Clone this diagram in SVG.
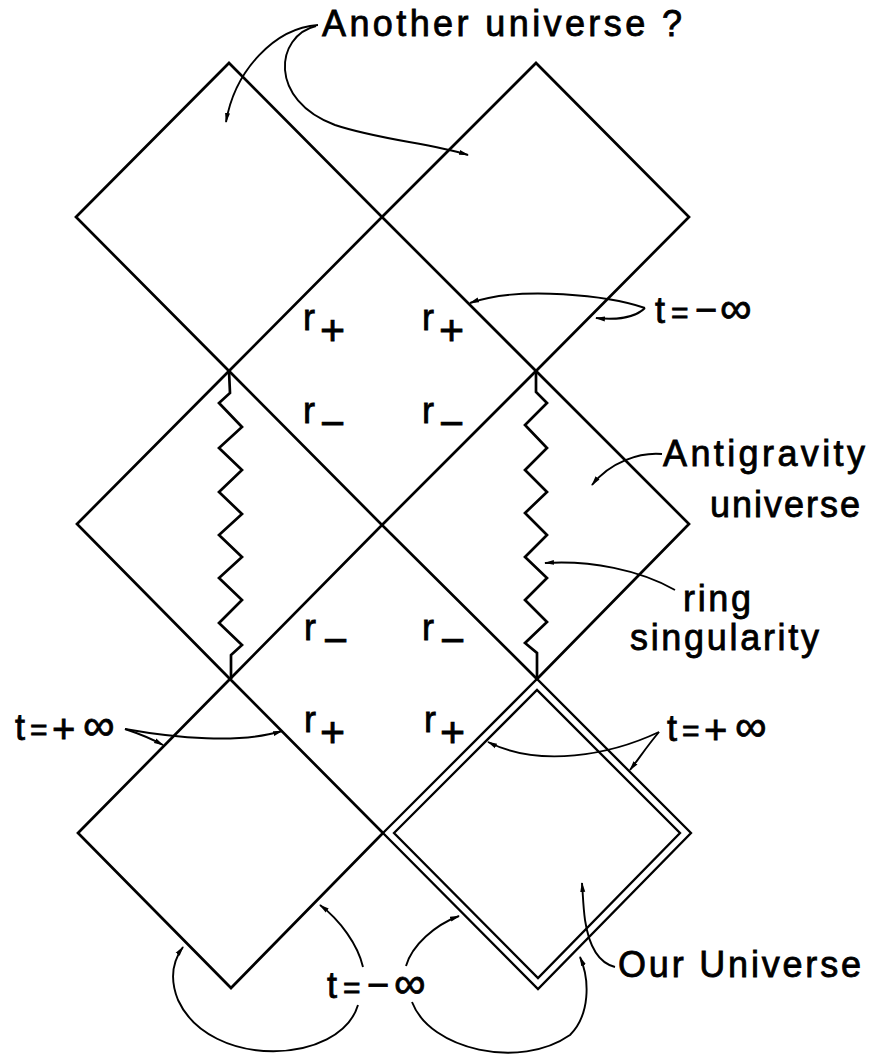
<svg xmlns="http://www.w3.org/2000/svg" width="871" height="1059" viewBox="0 0 871 1059">
<style>
.d{fill:none;stroke:#000;stroke-width:2.7;stroke-linejoin:miter}
.dd{fill:none;stroke:#000;stroke-width:2.3;stroke-linejoin:miter}
.z{fill:none;stroke:#000;stroke-width:2.7;stroke-linejoin:miter}
.c{fill:none;stroke:#000;stroke-width:1.9;marker-end:url(#ah)}
text{font-family:"Liberation Sans",Arial,sans-serif;font-size:36px;fill:#000;stroke:#000;stroke-width:0.8}
.inf{font-size:44px}
.eq{font-size:30px}
.mi{font-size:38px}
.pl{font-size:40px}
</style>
<defs>
<marker id="ah" viewBox="0 0 10 6" refX="9" refY="3" markerWidth="10" markerHeight="6" markerUnits="userSpaceOnUse" orient="auto">
<path d="M0,0.5 L10,3 L0,5.5 z" fill="#000"/>
</marker>
</defs>
<g id="diamond-top-left"><polygon class="d" points="76,217 229,63 382,217 229,371"/></g>
<g id="diamond-top-right"><polygon class="d" points="382,217 536,63 689,217 536,371"/></g>
<g id="diamond-mid-left"><polygon class="d" points="77,524 229,371 382,525 230,679"/>
<polyline class="z" points="229,371 230,393 219,403 242,427 219,448 242,470 219,492 242,514 219,535 242,557 219,578 242,600 219,623 242,645 231,655 231,679"/></g>
<g id="diamond-mid-right"><polygon class="d" points="382,525 536,371 689,524 537,679"/>
<polyline class="z" points="536,371 536,392 547,403 525,425 547,448 525,470 547,492 525,513 547,535 525,557 547,578 525,600 547,622 525,643 537,653 537,679"/></g>
<g id="diamond-bottom-left"><polygon class="d" points="78,833 230,679 383,833 231,988"/></g>
<g id="diamond-our-universe"><polygon class="dd" points="383,833 537,679 691,833 538,989"/><polygon class="dd" points="394,833 537,690 680,833 538,978"/></g>
<g id="labels-r">
<text x="303" y="330">r<tspan x="320" dy="15" font-size="43">+</tspan></text>
<text x="422" y="330">r<tspan x="439" dy="15" font-size="43">+</tspan></text>
<text x="303" y="423">r<tspan x="320" dy="15" font-size="43">−</tspan></text>
<text x="422" y="423">r<tspan x="439" dy="15" font-size="43">−</tspan></text>
<text x="304" y="640">r<tspan x="323" dy="15" font-size="43">−</tspan></text>
<text x="422" y="640">r<tspan x="440" dy="15" font-size="43">−</tspan></text>
<text x="304" y="732">r<tspan x="320" dy="15" font-size="43">+</tspan></text>
<text x="424" y="732">r<tspan x="440" dy="15" font-size="43">+</tspan></text>
</g>
<g id="label-another"><text x="322" y="36" textLength="360" lengthAdjust="spacing">Another universe ?</text></g>
<g id="label-t-minus-top"><text y="323"><tspan x="655">t</tspan><tspan class="eq" x="671">=</tspan><tspan class="mi" x="695">−</tspan><tspan class="inf" x="720">∞</tspan></text></g>
<g id="label-antigravity"><text x="663" y="466" textLength="202" lengthAdjust="spacing">Antigravity</text><text x="710" y="517" textLength="150" lengthAdjust="spacing">universe</text></g>
<g id="label-ring"><text x="683" y="611" textLength="68" lengthAdjust="spacing">ring</text><text x="630" y="650" textLength="189" lengthAdjust="spacing">singularity</text></g>
<g id="label-t-plus-left"><text y="740"><tspan x="15">t</tspan><tspan class="eq" x="30">=</tspan><tspan class="pl" x="52" dy="3">+</tspan><tspan class="inf" x="83" dy="-3">∞</tspan></text></g>
<g id="label-t-plus-right"><text y="741"><tspan x="667">t</tspan><tspan class="eq" x="682">=</tspan><tspan class="pl" x="704" dy="3">+</tspan><tspan class="inf" x="735" dy="-3">∞</tspan></text></g>
<g id="label-t-minus-bottom"><text y="998"><tspan x="327">t</tspan><tspan class="eq" x="343">=</tspan><tspan class="mi" x="367">−</tspan><tspan class="inf" x="394">∞</tspan></text></g>
<g id="label-our"><text x="618" y="977" textLength="243" lengthAdjust="spacing">Our Universe</text></g>
<g id="connectors">
<path class="c" d="M318,25 C275,28 235,70 226,122"/>
<path class="c" d="M316,26 C275,36 268,100 335,125 C380,140 430,143 468,155"/>
<path class="c" d="M645,308 C610,296 520,285 470,303"/>
<path class="c" d="M645,308 C635,318 615,320 596,318"/>
<path class="c" d="M662,454 C640,452 610,462 592,485"/>
<path class="c" d="M675,590 C640,570 590,560 545,563"/>
<path class="c" d="M125,729 C140,734 152,739 163,745"/>
<path class="c" d="M125,729 C175,738 240,744 282,731"/>
<path class="c" d="M659,732 C610,755 540,768 488,742"/>
<path class="c" d="M659,732 C648,745 640,757 630,770"/>
<path class="c" d="M363,967 C358,945 340,920 320,905"/>
<path class="c" d="M358,1005 C340,1065 210,1070 178,1000 C170,980 172,962 183,947"/>
<path class="c" d="M406,966 C412,945 435,925 459,916"/>
<path class="c" d="M412,1002 C430,1050 520,1070 570,1035 C590,1015 590,980 580,957"/>
<path class="c" d="M615,967 C595,962 588,940 585,920 C583,905 583,895 582,883"/>
</g>
</svg>
